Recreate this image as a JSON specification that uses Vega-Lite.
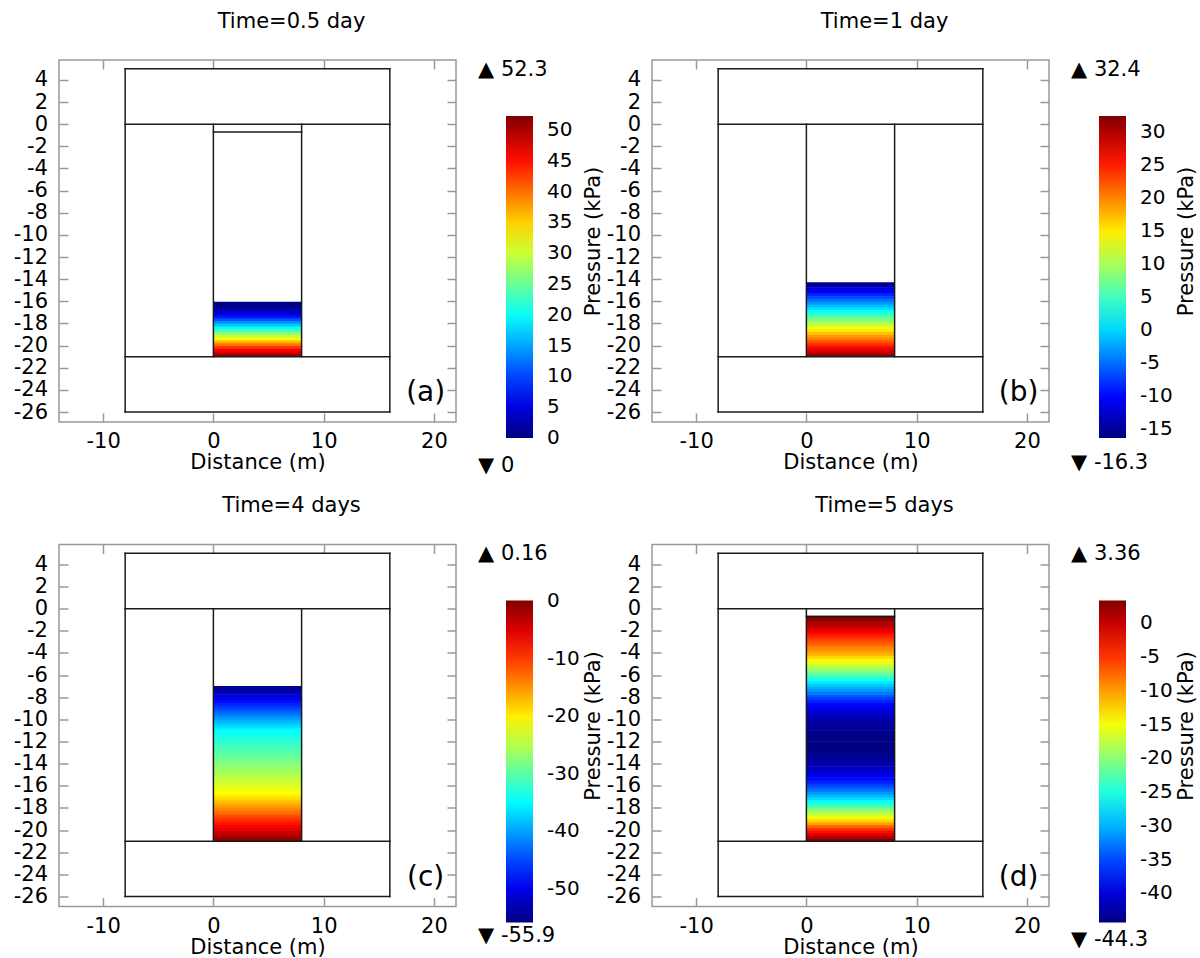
{
  "$schema": "https://vega.github.io/schema/vega-lite/v6.json",
  "background": "white",
  "padding": {"left": 12, "top": 10, "right": 5, "bottom": 0},
  "config": {
    "font": "DejaVu Sans",
    "view": {"stroke": "#999999", "strokeWidth": 1.5},
    "axis": {"labelFontSize": 21, "labelColor": "black", "titleFontSize": 21, "titleFontWeight": "normal", "titleColor": "black", "tickColor": "#999999", "tickWidth": 1.5, "tickSize": -9, "labelPadding": 20.5, "domain": false, "grid": false, "labelFlush": false, "labelOverlap": false, "titlePadding": 1},
    "legend": {"orient": "none", "type": "gradient", "direction": "vertical", "gradientLength": 322, "gradientThickness": 27, "gradientStrokeWidth": 0, "labelFontSize": 20, "labelColor": "black", "labelOffset": 14, "gradientLabelOffset": 14, "padding": 0, "legendX": 447, "legendY": 56},
    "title": {"fontSize": 21, "fontWeight": "normal", "color": "black", "frame": "group", "anchor": "middle", "dx": 34, "offset": 27},
    "text": {"color": "black"}
  },
  "datasets": {
    "seg": [
      {"p": "a", "x": -8, "x2": 16, "y": 5, "y2": 5},
      {"p": "a", "x": -8, "x2": 16, "y": -26, "y2": -26},
      {"p": "a", "x": -8, "x2": -8, "y": -26, "y2": 5},
      {"p": "a", "x": 16, "x2": 16, "y": -26, "y2": 5},
      {"p": "a", "x": -8, "x2": 16, "y": 0, "y2": 0},
      {"p": "a", "x": -8, "x2": 16, "y": -21, "y2": -21},
      {"p": "a", "x": 0, "x2": 0, "y": -21, "y2": 0},
      {"p": "a", "x": 8, "x2": 8, "y": -21, "y2": 0},
      {"p": "a", "x": 0, "x2": 8, "y": -0.7, "y2": -0.7},
      {"p": "b", "x": -8, "x2": 16, "y": 5, "y2": 5},
      {"p": "b", "x": -8, "x2": 16, "y": -26, "y2": -26},
      {"p": "b", "x": -8, "x2": -8, "y": -26, "y2": 5},
      {"p": "b", "x": 16, "x2": 16, "y": -26, "y2": 5},
      {"p": "b", "x": -8, "x2": 16, "y": 0, "y2": 0},
      {"p": "b", "x": -8, "x2": 16, "y": -21, "y2": -21},
      {"p": "b", "x": 0, "x2": 0, "y": -21, "y2": 0},
      {"p": "b", "x": 8, "x2": 8, "y": -21, "y2": 0},
      {"p": "c", "x": -8, "x2": 16, "y": 5, "y2": 5},
      {"p": "c", "x": -8, "x2": 16, "y": -26, "y2": -26},
      {"p": "c", "x": -8, "x2": -8, "y": -26, "y2": 5},
      {"p": "c", "x": 16, "x2": 16, "y": -26, "y2": 5},
      {"p": "c", "x": -8, "x2": 16, "y": 0, "y2": 0},
      {"p": "c", "x": -8, "x2": 16, "y": -21, "y2": -21},
      {"p": "c", "x": 0, "x2": 0, "y": -21, "y2": 0},
      {"p": "c", "x": 8, "x2": 8, "y": -21, "y2": 0},
      {"p": "d", "x": -8, "x2": 16, "y": 5, "y2": 5},
      {"p": "d", "x": -8, "x2": 16, "y": -26, "y2": -26},
      {"p": "d", "x": -8, "x2": -8, "y": -26, "y2": 5},
      {"p": "d", "x": 16, "x2": 16, "y": -26, "y2": 5},
      {"p": "d", "x": -8, "x2": 16, "y": 0, "y2": 0},
      {"p": "d", "x": -8, "x2": 16, "y": -21, "y2": -21},
      {"p": "d", "x": 0, "x2": 0, "y": -21, "y2": 0},
      {"p": "d", "x": 8, "x2": 8, "y": -21, "y2": 0},
      {"p": "d", "x": 0, "x2": 8, "y": -0.7, "y2": -0.7}
    ],
    "notes": [
      {"p": "a", "hi": "▲ 52.3", "lo": "▼ 0", "tag": "(a)"},
      {"p": "b", "hi": "▲ 32.4", "lo": "▼ -16.3", "tag": "(b)"},
      {"p": "c", "hi": "▲ 0.16", "lo": "▼ -55.9", "tag": "(c)"},
      {"p": "d", "hi": "▲ 3.36", "lo": "▼ -44.3", "tag": "(d)"}
    ],
    "cells": [
      {"p": "a", "y": -20.875, "v": 51.0}, {"p": "a", "y": -20.625, "v": 48.5}, {"p": "a", "y": -20.375, "v": 45.8}, {"p": "a", "y": -20.125, "v": 43.0},
      {"p": "a", "y": -19.875, "v": 39.8}, {"p": "a", "y": -19.625, "v": 36.5}, {"p": "a", "y": -19.375, "v": 33.0}, {"p": "a", "y": -19.125, "v": 29.8},
      {"p": "a", "y": -18.875, "v": 26.5}, {"p": "a", "y": -18.625, "v": 23.2}, {"p": "a", "y": -18.375, "v": 20.0}, {"p": "a", "y": -18.125, "v": 16.8},
      {"p": "a", "y": -17.875, "v": 13.8}, {"p": "a", "y": -17.625, "v": 10.8}, {"p": "a", "y": -17.375, "v": 7.5}, {"p": "a", "y": -17.125, "v": 5.0},
      {"p": "a", "y": -16.875, "v": 3.2}, {"p": "a", "y": -16.625, "v": 1.8}, {"p": "a", "y": -16.375, "v": 0.8}, {"p": "a", "y": -16.2, "v": 0.2},
      {"p": "b", "y": -20.875, "v": 31.5}, {"p": "b", "y": -20.625, "v": 29.7}, {"p": "b", "y": -20.375, "v": 27.9}, {"p": "b", "y": -20.125, "v": 26.0},
      {"p": "b", "y": -19.875, "v": 24.2}, {"p": "b", "y": -19.625, "v": 22.4}, {"p": "b", "y": -19.375, "v": 20.6}, {"p": "b", "y": -19.125, "v": 18.8},
      {"p": "b", "y": -18.875, "v": 17.0}, {"p": "b", "y": -18.625, "v": 15.1}, {"p": "b", "y": -18.375, "v": 13.3}, {"p": "b", "y": -18.125, "v": 11.5},
      {"p": "b", "y": -17.875, "v": 9.7}, {"p": "b", "y": -17.625, "v": 7.9}, {"p": "b", "y": -17.375, "v": 6.1}, {"p": "b", "y": -17.125, "v": 4.2},
      {"p": "b", "y": -16.875, "v": 2.4}, {"p": "b", "y": -16.625, "v": 0.6}, {"p": "b", "y": -16.375, "v": -1.2}, {"p": "b", "y": -16.125, "v": -3.0},
      {"p": "b", "y": -15.875, "v": -4.8}, {"p": "b", "y": -15.625, "v": -6.7}, {"p": "b", "y": -15.375, "v": -8.5}, {"p": "b", "y": -15.125, "v": -10.3},
      {"p": "b", "y": -14.875, "v": -12.1}, {"p": "b", "y": -14.625, "v": -13.9}, {"p": "b", "y": -14.42, "v": -15.6},
      {"p": "c", "y": -20.875, "v": -0.6}, {"p": "c", "y": -20.625, "v": -1.8}, {"p": "c", "y": -20.375, "v": -3.1}, {"p": "c", "y": -20.125, "v": -4.3},
      {"p": "c", "y": -19.875, "v": -5.5}, {"p": "c", "y": -19.625, "v": -6.7}, {"p": "c", "y": -19.375, "v": -7.9}, {"p": "c", "y": -19.125, "v": -9.1},
      {"p": "c", "y": -18.875, "v": -10.3}, {"p": "c", "y": -18.625, "v": -11.5}, {"p": "c", "y": -18.375, "v": -12.8}, {"p": "c", "y": -18.125, "v": -14.0},
      {"p": "c", "y": -17.875, "v": -15.2}, {"p": "c", "y": -17.625, "v": -16.4}, {"p": "c", "y": -17.375, "v": -17.6}, {"p": "c", "y": -17.125, "v": -18.8},
      {"p": "c", "y": -16.875, "v": -19.9}, {"p": "c", "y": -16.625, "v": -20.9}, {"p": "c", "y": -16.375, "v": -21.7}, {"p": "c", "y": -16.125, "v": -22.4},
      {"p": "c", "y": -15.875, "v": -23.0}, {"p": "c", "y": -15.625, "v": -23.6}, {"p": "c", "y": -15.375, "v": -24.2}, {"p": "c", "y": -15.125, "v": -24.9},
      {"p": "c", "y": -14.875, "v": -25.5}, {"p": "c", "y": -14.625, "v": -26.1}, {"p": "c", "y": -14.375, "v": -26.7}, {"p": "c", "y": -14.125, "v": -27.3},
      {"p": "c", "y": -13.875, "v": -27.9}, {"p": "c", "y": -13.625, "v": -28.5}, {"p": "c", "y": -13.375, "v": -29.1}, {"p": "c", "y": -13.125, "v": -29.7},
      {"p": "c", "y": -12.875, "v": -30.3}, {"p": "c", "y": -12.625, "v": -30.9}, {"p": "c", "y": -12.375, "v": -31.5}, {"p": "c", "y": -12.125, "v": -32.1},
      {"p": "c", "y": -11.875, "v": -32.7}, {"p": "c", "y": -11.625, "v": -33.3}, {"p": "c", "y": -11.375, "v": -34.0}, {"p": "c", "y": -11.125, "v": -34.7},
      {"p": "c", "y": -10.875, "v": -35.5}, {"p": "c", "y": -10.625, "v": -36.6}, {"p": "c", "y": -10.375, "v": -37.8}, {"p": "c", "y": -10.125, "v": -39.1},
      {"p": "c", "y": -9.875, "v": -40.4}, {"p": "c", "y": -9.625, "v": -41.7}, {"p": "c", "y": -9.375, "v": -43.0}, {"p": "c", "y": -9.125, "v": -44.3},
      {"p": "c", "y": -8.875, "v": -45.6}, {"p": "c", "y": -8.625, "v": -46.9}, {"p": "c", "y": -8.375, "v": -48.2}, {"p": "c", "y": -8.125, "v": -49.6},
      {"p": "c", "y": -7.875, "v": -50.9}, {"p": "c", "y": -7.625, "v": -52.3}, {"p": "c", "y": -7.375, "v": -53.6}, {"p": "c", "y": -7.125, "v": -55.2},
      {"p": "d", "y": -20.875, "v": 2.7}, {"p": "d", "y": -20.625, "v": 1.0}, {"p": "d", "y": -20.375, "v": -1.0}, {"p": "d", "y": -20.125, "v": -3.0},
      {"p": "d", "y": -19.875, "v": -5.2}, {"p": "d", "y": -19.625, "v": -7.7}, {"p": "d", "y": -19.375, "v": -10.2}, {"p": "d", "y": -19.125, "v": -12.7},
      {"p": "d", "y": -18.875, "v": -14.9}, {"p": "d", "y": -18.625, "v": -16.6}, {"p": "d", "y": -18.375, "v": -18.5}, {"p": "d", "y": -18.125, "v": -20.5},
      {"p": "d", "y": -17.875, "v": -22.5}, {"p": "d", "y": -17.625, "v": -24.5}, {"p": "d", "y": -17.375, "v": -26.3}, {"p": "d", "y": -17.125, "v": -28.1},
      {"p": "d", "y": -16.875, "v": -29.8}, {"p": "d", "y": -16.625, "v": -31.4}, {"p": "d", "y": -16.375, "v": -32.9}, {"p": "d", "y": -16.125, "v": -34.3},
      {"p": "d", "y": -15.875, "v": -35.6}, {"p": "d", "y": -15.625, "v": -36.9}, {"p": "d", "y": -15.375, "v": -38.0}, {"p": "d", "y": -15.125, "v": -39.0},
      {"p": "d", "y": -14.875, "v": -39.9}, {"p": "d", "y": -14.625, "v": -40.6}, {"p": "d", "y": -14.375, "v": -41.3}, {"p": "d", "y": -14.125, "v": -42.0},
      {"p": "d", "y": -13.875, "v": -42.5}, {"p": "d", "y": -13.625, "v": -43.0}, {"p": "d", "y": -13.375, "v": -43.3}, {"p": "d", "y": -13.125, "v": -43.6},
      {"p": "d", "y": -12.875, "v": -43.9}, {"p": "d", "y": -12.625, "v": -44.1}, {"p": "d", "y": -12.375, "v": -44.2}, {"p": "d", "y": -12.125, "v": -44.3},
      {"p": "d", "y": -11.875, "v": -44.2}, {"p": "d", "y": -11.625, "v": -44.1}, {"p": "d", "y": -11.375, "v": -43.9}, {"p": "d", "y": -11.125, "v": -43.7},
      {"p": "d", "y": -10.875, "v": -43.4}, {"p": "d", "y": -10.625, "v": -43.1}, {"p": "d", "y": -10.375, "v": -42.8}, {"p": "d", "y": -10.125, "v": -42.4},
      {"p": "d", "y": -9.875, "v": -41.9}, {"p": "d", "y": -9.625, "v": -41.3}, {"p": "d", "y": -9.375, "v": -40.6}, {"p": "d", "y": -9.125, "v": -39.9},
      {"p": "d", "y": -8.875, "v": -39.0}, {"p": "d", "y": -8.625, "v": -38.0}, {"p": "d", "y": -8.375, "v": -36.9}, {"p": "d", "y": -8.125, "v": -35.6},
      {"p": "d", "y": -7.875, "v": -34.2}, {"p": "d", "y": -7.625, "v": -32.7}, {"p": "d", "y": -7.375, "v": -31.4}, {"p": "d", "y": -7.125, "v": -30.1},
      {"p": "d", "y": -6.875, "v": -28.7}, {"p": "d", "y": -6.625, "v": -27.2}, {"p": "d", "y": -6.375, "v": -25.5}, {"p": "d", "y": -6.125, "v": -23.8},
      {"p": "d", "y": -5.875, "v": -22.1}, {"p": "d", "y": -5.625, "v": -20.3}, {"p": "d", "y": -5.375, "v": -18.7}, {"p": "d", "y": -5.125, "v": -17.2},
      {"p": "d", "y": -4.875, "v": -15.7}, {"p": "d", "y": -4.625, "v": -14.2}, {"p": "d", "y": -4.375, "v": -12.7}, {"p": "d", "y": -4.125, "v": -11.2},
      {"p": "d", "y": -3.875, "v": -10.0}, {"p": "d", "y": -3.625, "v": -9.0}, {"p": "d", "y": -3.375, "v": -8.0}, {"p": "d", "y": -3.125, "v": -7.0},
      {"p": "d", "y": -2.875, "v": -6.0}, {"p": "d", "y": -2.625, "v": -5.0}, {"p": "d", "y": -2.375, "v": -3.8}, {"p": "d", "y": -2.125, "v": -2.6},
      {"p": "d", "y": -1.875, "v": -1.4}, {"p": "d", "y": -1.625, "v": -0.1}, {"p": "d", "y": -1.375, "v": 1.0}, {"p": "d", "y": -1.125, "v": 2.0},
      {"p": "d", "y": -0.875, "v": 2.8}, {"p": "d", "y": -0.78, "v": 3.3}
    ]
  },
  "columns": 2,
  "spacing": {"row": 122.5, "column": 196},
  "bounds": "flush",
  "resolve": {"scale": {"color": "independent"}, "legend": {"color": "independent"}},
  "concat": [
    {
      "width": 397, "height": 362,
      "title": {"text": "Time=0.5 day"},
      "layer": [
        {
          "data": {"name": "cells"},
          "transform": [{"filter": "datum.p == 'a'"}],
          "mark": {"type": "rule", "strokeWidth": 3.4, "strokeCap": "butt"},
          "encoding": {
            "x": {"datum": 0, "type": "quantitative", "scale": {"domain": [-14, 22], "nice": false, "zero": false}, "axis": {"orient": "top", "values": [-10, 0, 10, 20], "labels": false, "title": null}},
            "x2": {"datum": 8},
            "y": {"field": "y", "type": "quantitative", "scale": {"domain": [-26.9, 5.8], "nice": false, "zero": false}, "axis": {"orient": "right", "values": [-26, -24, -22, -20, -18, -16, -14, -12, -10, -8, -6, -4, -2, 0, 2, 4], "labels": false, "title": "Pressure (kPa)", "titleAngle": 270, "titleBaseline": "top", "titlePadding": 126, "minExtent": 0}},
            "color": {"field": "v", "type": "quantitative", "scale": {"domain": [-0.02, 6.54, 19.61, 32.69, 45.76, 52.3], "range": ["#000080", "#0000ff", "#00ffff", "#ffff00", "#ff0000", "#800000"], "interpolate": "rgb"}, "legend": {"title": null, "labelOffset": 14, "values": [0, 5, 10, 15, 20, 25, 30, 35, 40, 45, 50], "labelExpr": "toString(datum.value)"}}
          }
        },
        {
          "data": {"name": "seg"},
          "transform": [{"filter": "datum.p == 'a'"}],
          "mark": {"type": "rule", "color": "#1a1a1a", "strokeWidth": 1.5, "strokeCap": "square"},
          "encoding": {
            "x": {"field": "x", "type": "quantitative", "scale": {"domain": [-14, 22], "nice": false, "zero": false}, "axis": {"orient": "bottom", "values": [-10, 0, 10, 20], "title": "Distance (m)", "labelPadding": 17.5, "titlePadding": 0, "labelExpr": "toString(datum.value)"}},
            "x2": {"field": "x2"},
            "y": {"field": "y", "type": "quantitative", "scale": {"domain": [-26.9, 5.8], "nice": false, "zero": false}, "axis": {"orient": "left", "values": [-26, -24, -22, -20, -18, -16, -14, -12, -10, -8, -6, -4, -2, 0, 2, 4], "title": null, "labelExpr": "toString(datum.value)"}},
            "y2": {"field": "y2"}
          }
        },
        {
          "data": {"name": "notes"},
          "transform": [{"filter": "datum.p == 'a'"}],
          "mark": {"type": "text", "fontSize": 21, "align": "left", "baseline": "middle"},
          "encoding": {"x": {"datum": 24, "type": "quantitative", "axis": null}, "y": {"datum": 4.9, "type": "quantitative", "axis": null}, "text": {"field": "hi"}}
        },
        {
          "data": {"name": "notes"},
          "transform": [{"filter": "datum.p == 'a'"}],
          "mark": {"type": "text", "fontSize": 21, "align": "left", "baseline": "middle"},
          "encoding": {"x": {"datum": 24, "type": "quantitative", "axis": null}, "y": {"datum": -30.9, "type": "quantitative", "axis": null}, "text": {"field": "lo"}}
        },
        {
          "data": {"name": "notes"},
          "transform": [{"filter": "datum.p == 'a'"}],
          "mark": {"type": "text", "fontSize": 28, "align": "center", "baseline": "middle"},
          "encoding": {"x": {"datum": 19.25, "type": "quantitative", "axis": null}, "y": {"datum": -24.3, "type": "quantitative", "axis": null}, "text": {"field": "tag"}}
        }
      ],
      "resolve": {"axis": {"x": "independent", "y": "independent"}}
    },
    {
      "width": 397, "height": 362,
      "title": {"text": "Time=1 day"},
      "layer": [
        {
          "data": {"name": "cells"},
          "transform": [{"filter": "datum.p == 'b'"}],
          "mark": {"type": "rule", "strokeWidth": 3.4, "strokeCap": "butt"},
          "encoding": {
            "x": {"datum": 0, "type": "quantitative", "scale": {"domain": [-14, 22], "nice": false, "zero": false}, "axis": {"orient": "top", "values": [-10, 0, 10, 20], "labels": false, "title": null}},
            "x2": {"datum": 8},
            "y": {"field": "y", "type": "quantitative", "scale": {"domain": [-26.9, 5.8], "nice": false, "zero": false}, "axis": {"orient": "right", "values": [-26, -24, -22, -20, -18, -16, -14, -12, -10, -8, -6, -4, -2, 0, 2, 4], "labels": false, "title": "Pressure (kPa)", "titleAngle": 270, "titleBaseline": "top", "titlePadding": 126, "minExtent": 0}},
            "color": {"field": "v", "type": "quantitative", "scale": {"domain": [-16.3, -10.21, 1.96, 14.14, 26.31, 32.4], "range": ["#000080", "#0000ff", "#00ffff", "#ffff00", "#ff0000", "#800000"], "interpolate": "rgb"}, "legend": {"title": null, "labelOffset": 14, "values": [-15, -10, -5, 0, 5, 10, 15, 20, 25, 30], "labelExpr": "toString(datum.value)"}}
          }
        },
        {
          "data": {"name": "seg"},
          "transform": [{"filter": "datum.p == 'b'"}],
          "mark": {"type": "rule", "color": "#1a1a1a", "strokeWidth": 1.5, "strokeCap": "square"},
          "encoding": {
            "x": {"field": "x", "type": "quantitative", "scale": {"domain": [-14, 22], "nice": false, "zero": false}, "axis": {"orient": "bottom", "values": [-10, 0, 10, 20], "title": "Distance (m)", "labelPadding": 17.5, "titlePadding": 0, "labelExpr": "toString(datum.value)"}},
            "x2": {"field": "x2"},
            "y": {"field": "y", "type": "quantitative", "scale": {"domain": [-26.9, 5.8], "nice": false, "zero": false}, "axis": {"orient": "left", "values": [-26, -24, -22, -20, -18, -16, -14, -12, -10, -8, -6, -4, -2, 0, 2, 4], "title": null, "labelExpr": "toString(datum.value)"}},
            "y2": {"field": "y2"}
          }
        },
        {
          "data": {"name": "notes"},
          "transform": [{"filter": "datum.p == 'b'"}],
          "mark": {"type": "text", "fontSize": 21, "align": "left", "baseline": "middle"},
          "encoding": {"x": {"datum": 24, "type": "quantitative", "axis": null}, "y": {"datum": 4.9, "type": "quantitative", "axis": null}, "text": {"field": "hi"}}
        },
        {
          "data": {"name": "notes"},
          "transform": [{"filter": "datum.p == 'b'"}],
          "mark": {"type": "text", "fontSize": 21, "align": "left", "baseline": "middle"},
          "encoding": {"x": {"datum": 24, "type": "quantitative", "axis": null}, "y": {"datum": -30.6, "type": "quantitative", "axis": null}, "text": {"field": "lo"}}
        },
        {
          "data": {"name": "notes"},
          "transform": [{"filter": "datum.p == 'b'"}],
          "mark": {"type": "text", "fontSize": 28, "align": "center", "baseline": "middle"},
          "encoding": {"x": {"datum": 19.25, "type": "quantitative", "axis": null}, "y": {"datum": -24.3, "type": "quantitative", "axis": null}, "text": {"field": "tag"}}
        }
      ],
      "resolve": {"axis": {"x": "independent", "y": "independent"}}
    },
    {
      "width": 397, "height": 362,
      "title": {"text": "Time=4 days"},
      "layer": [
        {
          "data": {"name": "cells"},
          "transform": [{"filter": "datum.p == 'c'"}],
          "mark": {"type": "rule", "strokeWidth": 3.4, "strokeCap": "butt"},
          "encoding": {
            "x": {"datum": 0, "type": "quantitative", "scale": {"domain": [-14, 22], "nice": false, "zero": false}, "axis": {"orient": "top", "values": [-10, 0, 10, 20], "labels": false, "title": null}},
            "x2": {"datum": 8},
            "y": {"field": "y", "type": "quantitative", "scale": {"domain": [-26.9, 5.8], "nice": false, "zero": false}, "axis": {"orient": "right", "values": [-26, -24, -22, -20, -18, -16, -14, -12, -10, -8, -6, -4, -2, 0, 2, 4], "labels": false, "title": "Pressure (kPa)", "titleAngle": 270, "titleBaseline": "top", "titlePadding": 126, "minExtent": 0}},
            "color": {"field": "v", "type": "quantitative", "scale": {"domain": [-55.9, -48.89, -34.88, -20.86, -6.85, 0.16], "range": ["#000080", "#0000ff", "#00ffff", "#ffff00", "#ff0000", "#800000"], "interpolate": "rgb"}, "legend": {"title": null, "labelOffset": 14, "values": [-50, -40, -30, -20, -10, 0], "labelExpr": "toString(datum.value)"}}
          }
        },
        {
          "data": {"name": "seg"},
          "transform": [{"filter": "datum.p == 'c'"}],
          "mark": {"type": "rule", "color": "#1a1a1a", "strokeWidth": 1.5, "strokeCap": "square"},
          "encoding": {
            "x": {"field": "x", "type": "quantitative", "scale": {"domain": [-14, 22], "nice": false, "zero": false}, "axis": {"orient": "bottom", "values": [-10, 0, 10, 20], "title": "Distance (m)", "labelPadding": 17.5, "titlePadding": 0, "labelExpr": "toString(datum.value)"}},
            "x2": {"field": "x2"},
            "y": {"field": "y", "type": "quantitative", "scale": {"domain": [-26.9, 5.8], "nice": false, "zero": false}, "axis": {"orient": "left", "values": [-26, -24, -22, -20, -18, -16, -14, -12, -10, -8, -6, -4, -2, 0, 2, 4], "title": null, "labelExpr": "toString(datum.value)"}},
            "y2": {"field": "y2"}
          }
        },
        {
          "data": {"name": "notes"},
          "transform": [{"filter": "datum.p == 'c'"}],
          "mark": {"type": "text", "fontSize": 21, "align": "left", "baseline": "middle"},
          "encoding": {"x": {"datum": 24, "type": "quantitative", "axis": null}, "y": {"datum": 4.9, "type": "quantitative", "axis": null}, "text": {"field": "hi"}}
        },
        {
          "data": {"name": "notes"},
          "transform": [{"filter": "datum.p == 'c'"}],
          "mark": {"type": "text", "fontSize": 21, "align": "left", "baseline": "middle"},
          "encoding": {"x": {"datum": 24, "type": "quantitative", "axis": null}, "y": {"datum": -29.6, "type": "quantitative", "axis": null}, "text": {"field": "lo"}}
        },
        {
          "data": {"name": "notes"},
          "transform": [{"filter": "datum.p == 'c'"}],
          "mark": {"type": "text", "fontSize": 28, "align": "center", "baseline": "middle"},
          "encoding": {"x": {"datum": 19.25, "type": "quantitative", "axis": null}, "y": {"datum": -24.3, "type": "quantitative", "axis": null}, "text": {"field": "tag"}}
        }
      ],
      "resolve": {"axis": {"x": "independent", "y": "independent"}}
    },
    {
      "width": 397, "height": 362,
      "title": {"text": "Time=5 days"},
      "layer": [
        {
          "data": {"name": "cells"},
          "transform": [{"filter": "datum.p == 'd'"}],
          "mark": {"type": "rule", "strokeWidth": 3.4, "strokeCap": "butt"},
          "encoding": {
            "x": {"datum": 0, "type": "quantitative", "scale": {"domain": [-14, 22], "nice": false, "zero": false}, "axis": {"orient": "top", "values": [-10, 0, 10, 20], "labels": false, "title": null}},
            "x2": {"datum": 8},
            "y": {"field": "y", "type": "quantitative", "scale": {"domain": [-26.9, 5.8], "nice": false, "zero": false}, "axis": {"orient": "right", "values": [-26, -24, -22, -20, -18, -16, -14, -12, -10, -8, -6, -4, -2, 0, 2, 4], "labels": false, "title": "Pressure (kPa)", "titleAngle": 270, "titleBaseline": "top", "titlePadding": 126, "minExtent": 0}},
            "color": {"field": "v", "type": "quantitative", "scale": {"domain": [-44.3, -38.34, -26.43, -14.51, -2.6, 3.36], "range": ["#000080", "#0000ff", "#00ffff", "#ffff00", "#ff0000", "#800000"], "interpolate": "rgb"}, "legend": {"title": null, "labelOffset": 14, "values": [-40, -35, -30, -25, -20, -15, -10, -5, 0], "labelExpr": "toString(datum.value)"}}
          }
        },
        {
          "data": {"name": "seg"},
          "transform": [{"filter": "datum.p == 'd'"}],
          "mark": {"type": "rule", "color": "#1a1a1a", "strokeWidth": 1.5, "strokeCap": "square"},
          "encoding": {
            "x": {"field": "x", "type": "quantitative", "scale": {"domain": [-14, 22], "nice": false, "zero": false}, "axis": {"orient": "bottom", "values": [-10, 0, 10, 20], "title": "Distance (m)", "labelPadding": 17.5, "titlePadding": 0, "labelExpr": "toString(datum.value)"}},
            "x2": {"field": "x2"},
            "y": {"field": "y", "type": "quantitative", "scale": {"domain": [-26.9, 5.8], "nice": false, "zero": false}, "axis": {"orient": "left", "values": [-26, -24, -22, -20, -18, -16, -14, -12, -10, -8, -6, -4, -2, 0, 2, 4], "title": null, "labelExpr": "toString(datum.value)"}},
            "y2": {"field": "y2"}
          }
        },
        {
          "data": {"name": "notes"},
          "transform": [{"filter": "datum.p == 'd'"}],
          "mark": {"type": "text", "fontSize": 21, "align": "left", "baseline": "middle"},
          "encoding": {"x": {"datum": 24, "type": "quantitative", "axis": null}, "y": {"datum": 4.9, "type": "quantitative", "axis": null}, "text": {"field": "hi"}}
        },
        {
          "data": {"name": "notes"},
          "transform": [{"filter": "datum.p == 'd'"}],
          "mark": {"type": "text", "fontSize": 21, "align": "left", "baseline": "middle"},
          "encoding": {"x": {"datum": 24, "type": "quantitative", "axis": null}, "y": {"datum": -29.9, "type": "quantitative", "axis": null}, "text": {"field": "lo"}}
        },
        {
          "data": {"name": "notes"},
          "transform": [{"filter": "datum.p == 'd'"}],
          "mark": {"type": "text", "fontSize": 28, "align": "center", "baseline": "middle"},
          "encoding": {"x": {"datum": 19.25, "type": "quantitative", "axis": null}, "y": {"datum": -24.3, "type": "quantitative", "axis": null}, "text": {"field": "tag"}}
        }
      ],
      "resolve": {"axis": {"x": "independent", "y": "independent"}}
    }
  ]
}
